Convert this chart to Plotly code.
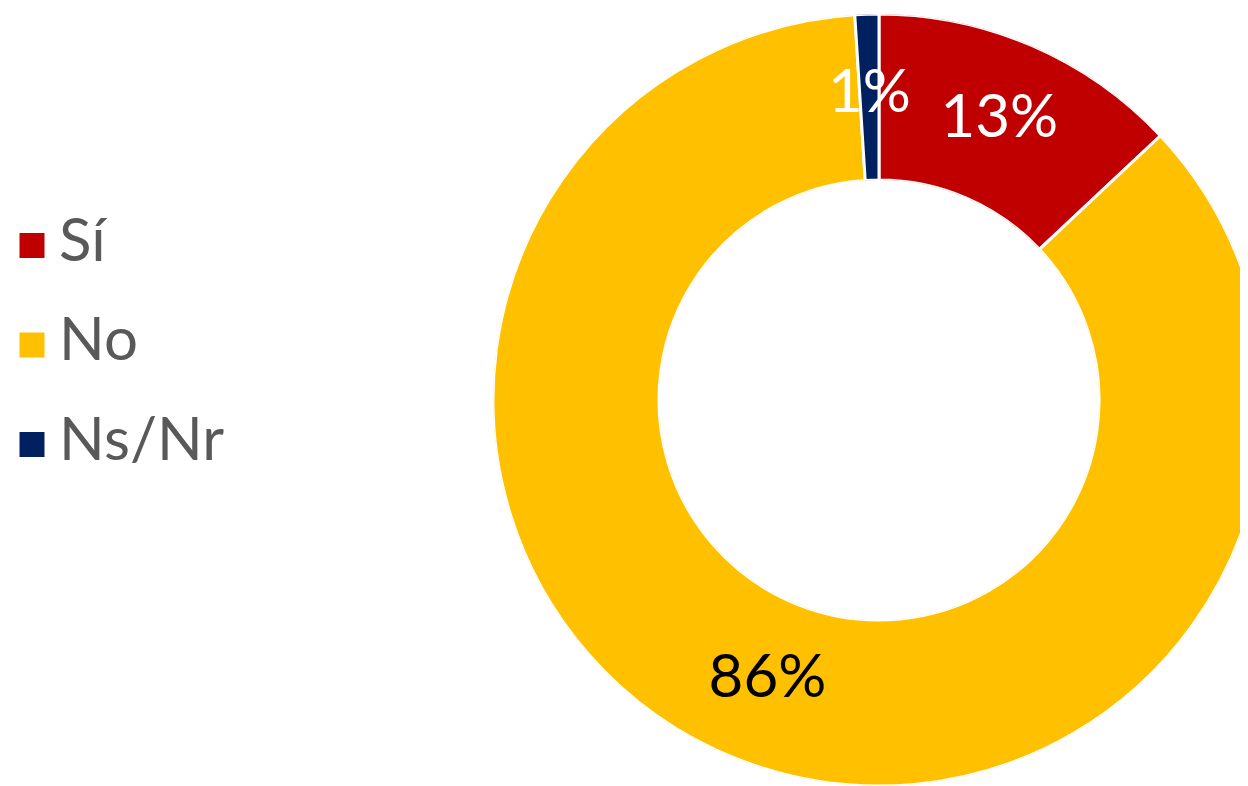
import plotly.graph_objects as go

categories = ["Sí", "No", "Ns/Nr"]
values = [13, 86, 1]
colors = ["#C00000", "#FFC000", "#002060"]
label_colors = ["white", "black", "white"]

# ---- layout geometry (figure pixels) ----
W, H = 1260, 800
OFF = 8  # page body margin
cx, cy, R = 879 - OFF, 400 - OFF, 386
hole = 0.57
dom_x = [(cx - R) / W, (cx + R) / W]
dom_y = [(H - (cy + R)) / H, (H - (cy - R)) / H]

total = sum(values)
cum = 0
mid_theta, spans = [], []
for v in values:
    mid_theta.append((cum + v / 2) / total * 360)
    spans.append(v / total * 360)
    cum += v
pct_text = [f"{round(v / total * 100)}%" for v in values]

fig = go.Figure()
fig.add_trace(go.Barpolar(
    r=[1] * len(values), theta=mid_theta, width=spans, base=0,
    marker=dict(color=colors, line=dict(color="white", width=3)),
    text=categories, hoverinfo="text", showlegend=False,
))
fig.add_trace(go.Scatterpolar(
    r=[0.5] * len(values), theta=mid_theta, mode="text",
    text=pct_text, textposition="middle center",
    textfont=dict(family="Lato", size=60, color=label_colors),
    showlegend=False, hoverinfo="skip",
))

# legend as scatter traces on hidden axes
n = len(categories)
fig.add_trace(go.Scatter(
    x=[0] * n, y=list(range(n)), mode="markers",
    marker=dict(symbol="square", size=25, color=colors, line=dict(width=0)),
    showlegend=False, hoverinfo="skip", cliponaxis=False,
))
fig.add_trace(go.Scatter(
    x=[27] * n, y=list(range(n)), mode="text", text=categories,
    textposition="middle right",
    textfont=dict(family="Lato", size=60, color="#595959"),
    showlegend=False, hoverinfo="skip", cliponaxis=False,
))

row_gap = 99.5
yc = 337
y_top = yc - 1.5 * row_gap
y_bot = yc + 1.5 * row_gap

fig.update_layout(
    width=W, height=H, margin=dict(l=0, r=0, t=0, b=0),
    paper_bgcolor="white", plot_bgcolor="rgba(0,0,0,0)",
    polar=dict(
        domain=dict(x=dom_x, y=dom_y), bgcolor="rgba(0,0,0,0)", hole=hole,
        radialaxis=dict(visible=False, range=[0, 1], showgrid=False),
        angularaxis=dict(visible=False, rotation=90, direction="clockwise",
                         showgrid=False),
    ),
    xaxis=dict(domain=[0, 300 / W], range=[-24, 276], visible=False),
    yaxis=dict(domain=[(H - y_bot) / H, (H - y_top) / H], range=[2.5, -0.5], visible=False),
    showlegend=False,
)

fig.write_html("out.html")
